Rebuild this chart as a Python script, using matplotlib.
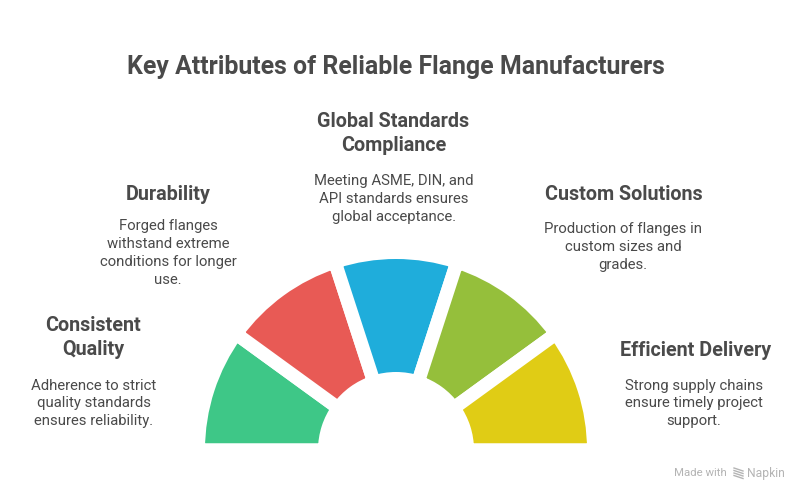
import matplotlib.pyplot as plt
from matplotlib.patches import Rectangle

plt.rcParams["font.family"] = ["Roboto", "DejaVu Sans"]

# one equal share per attribute, drawn left to right over the half circle
shares = [0.1, 0.1, 0.1, 0.1, 0.1]
colors = ["#3EC787", "#E85A55", "#1FADDB", "#95BF3B", "#E0CC15"]

title = "Key Attributes of Reliable Flange Manufacturers"
headings = [
    "Consistent\nQuality",
    "Durability",
    "Global Standards\nCompliance",
    "Custom Solutions",
    "Efficient Delivery",
]
bodies = [
    "Adherence to strict\nquality standards\nensures reliability.",
    "Forged flanges\nwithstand extreme\nconditions for longer\nuse.",
    "Meeting ASME, DIN, and\nAPI standards ensures\nglobal acceptance.",
    "Production of flanges in\ncustom sizes and\ngrades.",
    "Strong supply chains\nensure timely project\nsupport.",
]
# pixel positions of the text blocks (x centre, y centre from top)
heading_pos = [(93.5, 337.5), (168, 194), (393.5, 133.5), (624, 194), (696, 350)]
body_pos = [(94, 403.5), (168, 253), (394, 199), (623, 247), (694, 403.5)]

text_color = "#4A4A4A"
height = 493

fig = plt.figure(figsize=(7.98, 4.93), dpi=100)
ax = fig.add_axes([0, 0, 1, 1])

gap = 13.5  # px
r_out = 191
r_in = 78
wedges, _ = ax.pie(
    shares,
    colors=colors,
    center=(396, height - 450),
    radius=r_out + gap / 2,
    startangle=180,
    counterclock=False,
    normalize=False,
    wedgeprops=dict(
        width=r_out - r_in + gap,
        edgecolor="white",
        linewidth=gap * 72 / 100,
    ),
)
ax.set_xlim(0, 798)
ax.set_ylim(0, height)
ax.set_aspect("auto")
ax.axis("off")

# the half circle sits a little below its flat base
base = Rectangle((0, height - 443), 798, 443, transform=ax.transData)
for w in wedges:
    w.set_clip_path(base)

ax.text(396, height - 67, title, ha="center", va="center", fontsize=17.9,
        fontweight="bold", color=text_color)

for s, (x, y) in zip(headings, heading_pos):
    ax.text(x, height - y, s, ha="center", va="center", fontsize=14.25,
            fontweight="bold", color=text_color, linespacing=1.32)
for s, (x, y) in zip(bodies, body_pos):
    ax.text(x, height - y, s, ha="center", va="center", fontsize=10.7,
            color=text_color, linespacing=1.34)

# watermark
ax.text(674, height - 473, "Made with", ha="left", va="center", fontsize=8.2,
        color="#B4B4B4")
ax.text(746.5, height - 473, "Napkin", ha="left", va="center", fontsize=8.7,
        color="#B4B4B4")
for dy in (-4, -1.5, 1, 3.5):
    ax.plot([734, 743], [height - 473 + dy + 1.5, height - 473 + dy - 1.5],
            color="#B4B4B4", lw=1.0)

fig.savefig("out.png", dpi=100)
